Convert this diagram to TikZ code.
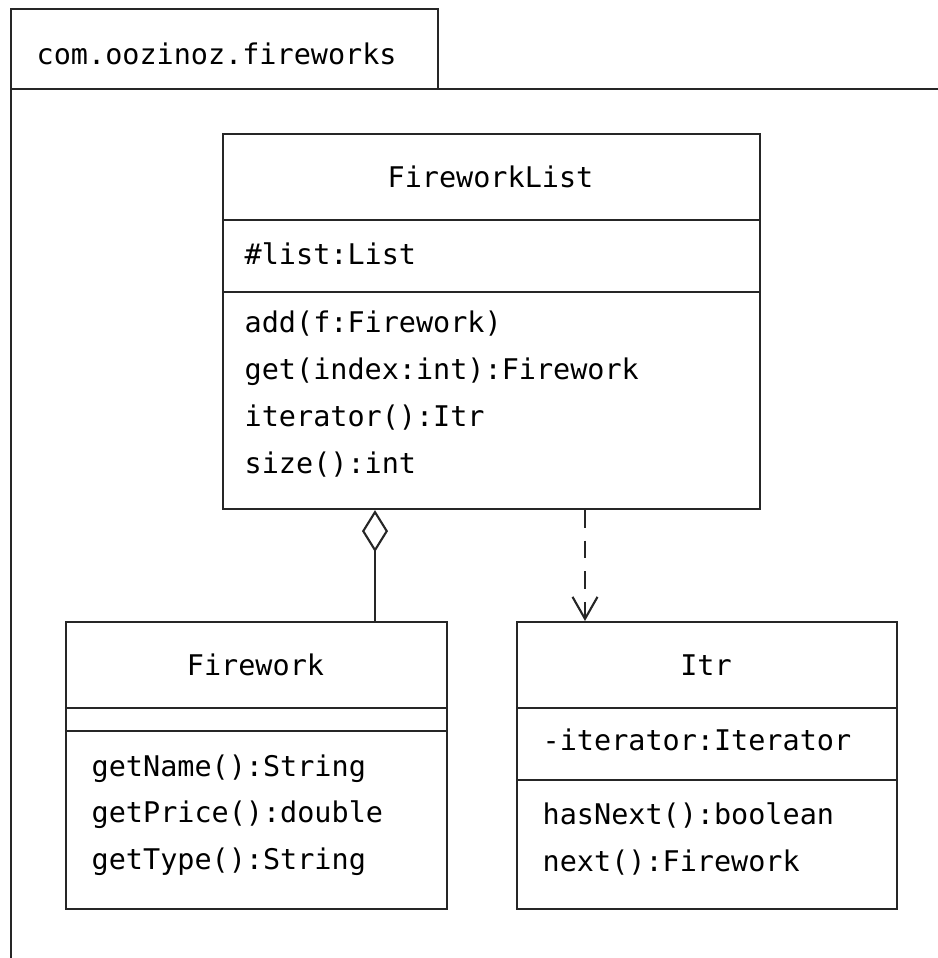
\documentclass[tikz,border=0pt]{standalone}
\usepackage{fontspec}
\usepackage{tikz}
\usetikzlibrary{arrows.meta,positioning}
\newfontfamily\umlmono{DejaVu Sans Mono}
\definecolor{ink}{HTML}{262626}
\newcommand{\compsep}[2]{\draw[ink,line width=.6pt] ([yshift=-#2cm]#1.north west)--([yshift=-#2cm]#1.north east);}
\tikzset{classbox/.style={draw=ink,line width=.6pt,inner sep=0pt,anchor=north west},txt/.style={font=\fontsize{8.1pt}{9pt}\umlmono,text=black,inner sep=0pt,anchor=base west},ttl/.style={txt,anchor=base}}

\begin{document}
\begin{tikzpicture}[x=1cm,y=1cm]
\useasboundingbox (0,0) rectangle (9.38,9.58);
\draw[ink,line width=.6pt] (.11,0)--(.11,9.49)--(4.38,9.49)--(4.38,8.69);\draw[ink,line width=.6pt] (.11,8.69)--(9.38,8.69);
\node[txt] (pkg) at (.36,8.93) {com.oozinoz.fireworks};
\node[classbox,minimum width=5.37cm,minimum height=3.75cm] (list) at (2.22,8.25) {};\compsep{list}{.87}\compsep{list}{1.59}
\node[classbox,minimum width=3.81cm,minimum height=2.87cm] (fw) at (.65,3.37) {};\compsep{fw}{.87}\compsep{fw}{1.10}
\node[classbox,minimum width=3.80cm,minimum height=2.87cm] (itr) at (5.16,3.37) {};\compsep{itr}{.87}\compsep{itr}{1.59}
\node[ttl] (listname) at (4.905,7.70) {FireworkList};\node[txt] (listattr) at (2.44,6.93) {\#list:List};
\foreach \m [count=\i] in {add(f:Firework),get(index:int):Firework,iterator():Itr,size():int} \node[txt] (listop\i) at (2.44,6.72-.47*\i) {\m};
\node[ttl] (fwname) at (2.555,2.82) {Firework};
\foreach \m [count=\i] in {getName():String,getPrice():double,getType():String} \node[txt] (fwop\i) at (.91,2.27-.46*\i) {\m};
\node[ttl] (itrname) at (7.06,2.82) {Itr};\node[txt] (itrattr) at (5.42,2.07) {-iterator:Iterator};
\foreach \m [count=\i] in {hasNext():boolean,next():Firework} \node[txt] (itrop\i) at (5.42,1.79-.46*\i) {\m};
\coordinate (agg) at (3.75,0);\coordinate (dep) at (5.85,0);
\draw[ink,line width=.6pt,{Diamond[open,length=.42cm,width=.26cm]}-] (list.south -| agg)--(fw.north -| agg);
\draw[ink,line width=.6pt,dash pattern=on 5pt off 3.7pt,-{Straight Barb[length=.22cm,width=.25cm]}] (list.south -| dep)--(itr.north -| dep);
\end{tikzpicture}
\end{document}
